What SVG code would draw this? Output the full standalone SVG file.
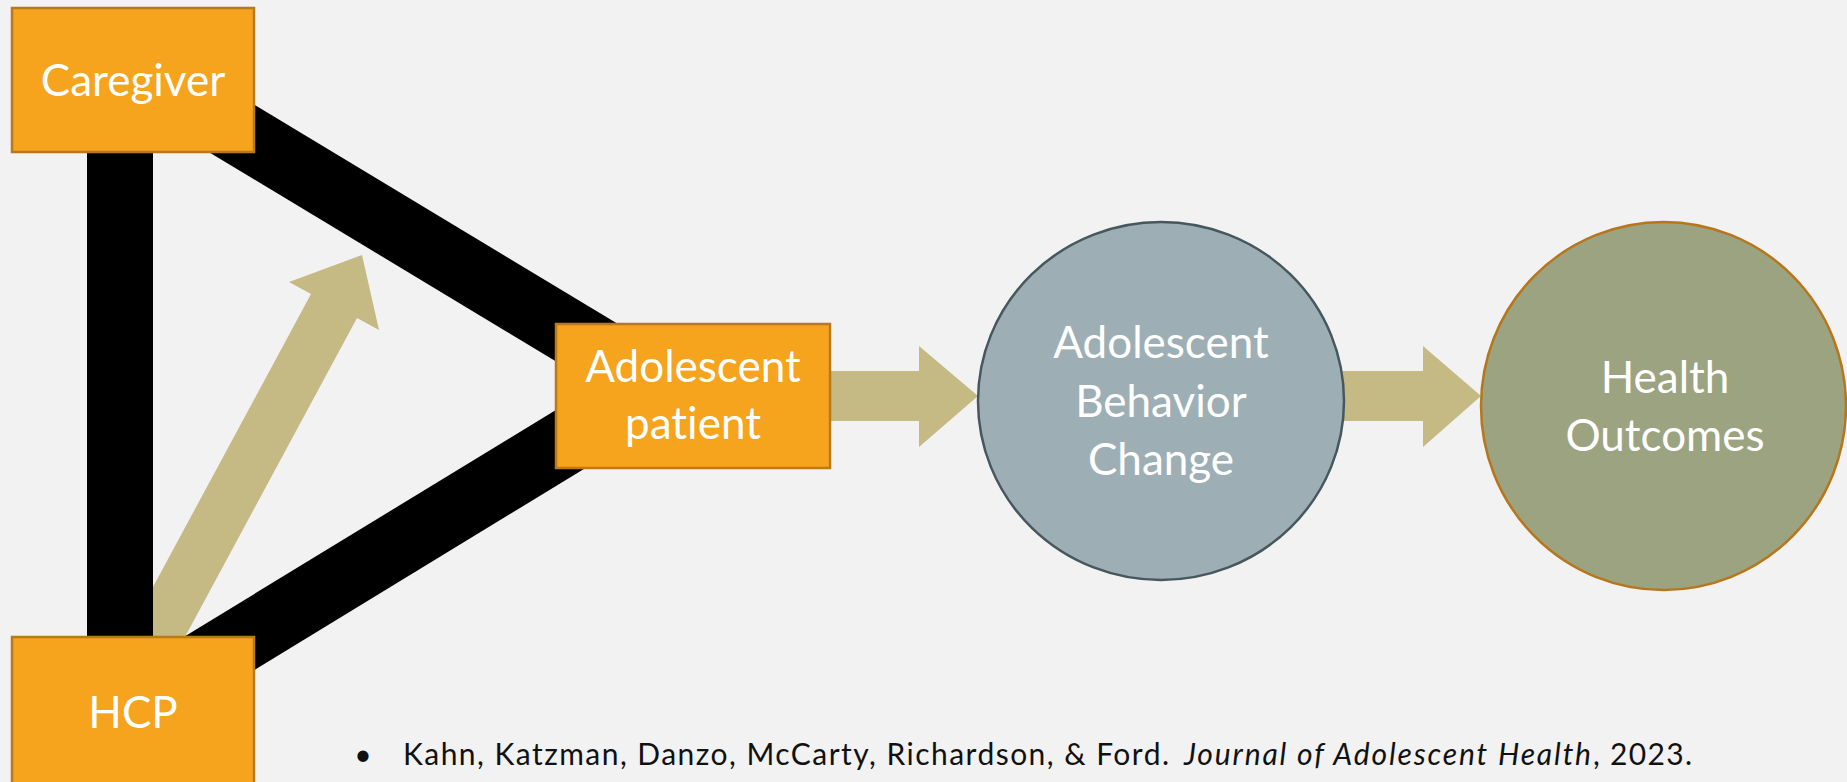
<svg xmlns="http://www.w3.org/2000/svg" width="1847" height="782" viewBox="0 0 1847 782">
<style>
text{font-variant-ligatures:none;font-feature-settings:"liga" 0,"clig" 0}
.box{fill:#F6A31E;stroke:#B97A1C;stroke-width:2.5}
.lbl{font-family:Lato,"Open Sans","Liberation Sans",sans-serif;font-size:44px;fill:#FFFFFF;text-anchor:middle}
.bar{stroke:#000000;fill:none}
.tan{fill:#C5B984}
.cite{font-family:Lato,"Liberation Sans",sans-serif;font-size:30px;fill:#111111}
</style>
<rect x="0" y="0" width="1847" height="782" fill="#F2F2F2"/>
<g id="connectors">
  <polygon class="tan" points="362,255 379,330 357,318 151,700 92,700 311,294 289,282"/>
  <rect x="87" y="140" width="66" height="510" fill="#000000"/>
  <line class="bar" x1="133" y1="69" x2="692" y2="406" stroke-width="64"/>
  <line class="bar" x1="133" y1="706" x2="692" y2="365" stroke-width="65"/>
  <polygon class="tan" points="825,371 919,371 919,346 978,396 919,447 919,421 825,421"/>
  <polygon class="tan" points="1330,371 1423,371 1423,346 1481,396 1423,447 1423,421 1330,421"/>
</g>
<g id="caregiver">
  <rect class="box" x="12" y="8" width="242" height="144"/>
  <text class="lbl" x="133" y="96">Caregiver</text>
</g>
<g id="hcp">
  <rect class="box" x="12" y="637" width="242" height="150"/>
  <text class="lbl" x="133" y="728">HCP</text>
</g>
<g id="adolescent-patient">
  <rect class="box" x="556" y="324" width="274" height="144"/>
  <text class="lbl" x="693" y="382">Adolescent</text>
  <text class="lbl" x="693" y="439">patient</text>
</g>
<g id="behavior-change">
  <ellipse cx="1161" cy="401" rx="183" ry="179" fill="#9DAFB5" stroke="#46575E" stroke-width="2.5"/>
  <text class="lbl" x="1161" y="358">Adolescent</text>
  <text class="lbl" x="1161" y="417">Behavior</text>
  <text class="lbl" x="1161" y="475">Change</text>
</g>
<g id="health-outcomes">
  <ellipse cx="1663.5" cy="406" rx="182.5" ry="184" fill="#9CA381" stroke="#B8761A" stroke-width="2.5"/>
  <text class="lbl" x="1665" y="393">Health</text>
  <text class="lbl" x="1665" y="451">Outcomes</text>
</g>
<g id="citation">
  <text class="cite" x="363" y="765" text-anchor="middle">•</text>
  <text class="cite" x="403" y="765" textLength="766" lengthAdjust="spacing">Kahn, Katzman, Danzo, McCarty, Richardson, &amp; Ford.</text>
  <text class="cite" x="1184" y="765" font-style="italic" textLength="407" lengthAdjust="spacing">Journal of Adolescent Health</text>
  <text class="cite" x="1593" y="765" textLength="99" lengthAdjust="spacing">, 2023.</text>
</g>
</svg>
